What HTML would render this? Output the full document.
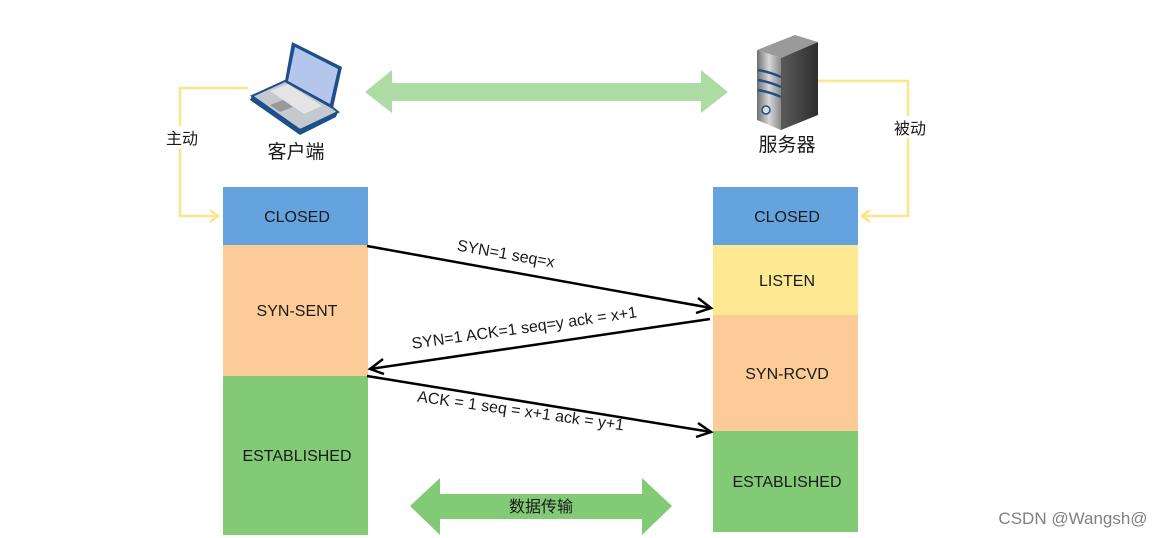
<!DOCTYPE html>
<html><head><meta charset="utf-8"><style>
html,body{margin:0;padding:0;background:#fff;width:1167px;height:538px;overflow:hidden}
svg{display:block}
text{font-family:"Liberation Sans","Noto Sans CJK SC",sans-serif;fill:#1a1a1a}
</style></head><body>
<svg width="1167" height="538" viewBox="0 0 1167 538" xmlns="http://www.w3.org/2000/svg">
<defs>
<linearGradient id="sf" x1="0" x2="1"><stop offset="0" stop-color="#6f6f6f"/><stop offset="0.5" stop-color="#d8d8d8"/><stop offset="1" stop-color="#8a8a8a"/></linearGradient>
<linearGradient id="ss" x1="0" x2="1"><stop offset="0" stop-color="#5a5a5a"/><stop offset="1" stop-color="#2e2e2e"/></linearGradient>
</defs>
<polygon points="365,92 392,70 392,83 701,83 701,70 728,92 701,113 701,101 392,101 392,113" fill="#acdca4"/>
<polyline points="248,88 180,88 180,216 218,216" fill="none" stroke="#fde58c" stroke-width="2.5"/>
<polyline points="210,210 218,216 210,222" fill="none" stroke="#fde58c" stroke-width="2.5"/>
<polyline points="818,81 908,81 908,216 862,216" fill="none" stroke="#fde58c" stroke-width="2.5"/>
<polyline points="870,210 862,216 870,222" fill="none" stroke="#fde58c" stroke-width="2.5"/>
<rect x="162" y="126" width="40" height="22" fill="#fff"/>
<text x="182" y="144" font-size="16" text-anchor="middle">主动</text>
<rect x="890" y="116" width="40" height="22" fill="#fff"/>
<text x="910" y="134" font-size="16" text-anchor="middle">被动</text>
<!-- laptop -->
<polygon points="292,42 342,67 333,108 285,81" fill="#1e4f8a"/>
<polygon points="295,47 338,69 330,104 288,81" fill="#b5c6ec"/>
<polygon points="285,81 333,108 338,112 300,130 252,96" fill="#c4c8cf" stroke="#1e4f8a" stroke-width="2"/>
<polygon points="270,91 288,84 322,106 304,114" fill="#e4e4e4"/>
<polygon points="270,105 283,100 293,107 280,112" fill="#999"/>
<polygon points="252,96 300,130 300,135 250,100" fill="#1e4f8a"/>
<polygon points="300,130 338,112 336,117 300,135" fill="#1e4f8a"/>
<text x="296" y="158" font-size="19" text-anchor="middle">客户端</text>
<!-- server -->
<polygon points="757,50 795,35 818,42 781,58" fill="#9a9a9a"/>
<polygon points="757,50 781,58 781,130 757,120" fill="url(#sf)"/>
<polygon points="781,58 818,42 818,115 781,130" fill="url(#ss)"/>
<path d="M758,70 Q770,72 781,77 M758,80 Q770,82 781,87 M758,90 Q770,92 781,97" stroke="#1e4f8a" stroke-width="2.5" fill="none"/>
<circle cx="766" cy="110" r="4" fill="#ddd" stroke="#1e4f8a" stroke-width="1.5"/>
<text x="787" y="151" font-size="19" text-anchor="middle">服务器</text>
<rect x="223" y="187" width="145" height="58" fill="#64a3dd"/>
<rect x="223" y="245" width="145" height="131" fill="#fdcb98"/>
<rect x="223" y="376" width="145" height="159" fill="#82ca76"/>
<text x="297" y="222" font-size="16" text-anchor="middle">CLOSED</text>
<text x="297" y="316" font-size="16" text-anchor="middle">SYN-SENT</text>
<text x="297" y="461" font-size="16" text-anchor="middle">ESTABLISHED</text>
<rect x="713" y="187" width="145" height="58" fill="#64a3dd"/>
<rect x="713" y="245" width="145" height="70" fill="#fde992"/>
<rect x="713" y="315" width="145" height="116" fill="#fdcb98"/>
<rect x="713" y="431" width="145" height="101" fill="#82ca76"/>
<text x="787" y="222" font-size="16" text-anchor="middle">CLOSED</text>
<text x="787" y="286" font-size="16" text-anchor="middle">LISTEN</text>
<text x="787" y="379" font-size="16" text-anchor="middle">SYN-RCVD</text>
<text x="787" y="487" font-size="16" text-anchor="middle">ESTABLISHED</text>
<g stroke="#000" stroke-width="2.5" fill="none">
<line x1="367" y1="246" x2="711" y2="308"/>
<polyline points="698,298 711,308 696,313"/>
<line x1="710" y1="319" x2="370" y2="369"/>
<polyline points="383,359 370,369 384,374"/>
<line x1="367" y1="376" x2="711" y2="432"/>
<polyline points="698,423 711,432 696,437"/>
</g>
<text font-size="16" text-anchor="middle" transform="translate(505,259) rotate(10)">SYN=1  seq=x</text>
<text font-size="16" text-anchor="middle" transform="translate(525,333) rotate(-8)">SYN=1 ACK=1 seq=y ack = x+1</text>
<text font-size="16" text-anchor="middle" transform="translate(520,416) rotate(8)">ACK = 1 seq = x+1 ack = y+1</text>
<polygon points="410,506 440,478 440,494 642,494 642,478 672,506 642,535 642,519 440,519 440,535" fill="#82ca76"/>
<text x="541" y="512" font-size="16" text-anchor="middle">数据传输</text>
<text x="1073" y="524" font-size="17" style="fill:#808080" text-anchor="middle">CSDN @Wangsh@</text>
</svg>
</body></html>
